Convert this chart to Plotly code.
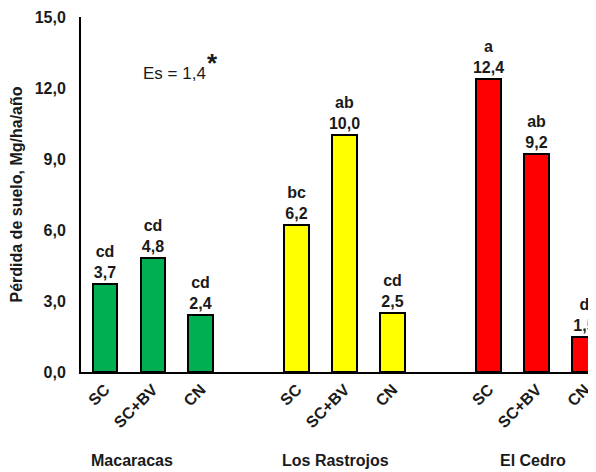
import plotly.graph_objects as go

groups = ["Macaracas", "Los Rastrojos", "El Cedro"]
treatments = ["SC", "SC+BV", "CN"]
values = [
    [3.7, 4.8, 2.4],
    [6.2, 10.0, 2.5],
    [12.4, 9.2, 1.5],
]
letters = [
    ["cd", "cd", "cd"],
    ["bc", "ab", "cd"],
    ["a", "ab", "d"],
]
colors = ["#00B050", "#FFFF00", "#FF0000"]
y_ticks = [0, 3, 6, 9, 12, 15]
es_text = "Es = 1,4"

FONT = "Liberation Sans, Arial, sans-serif"
TXT = "#1a1a1a"
slot = len(treatments) + 1

fig = go.Figure()
tickvals, ticktext = [], []
for g, (grp, vals, lets, col) in enumerate(zip(groups, values, letters, colors)):
    xs = [g * slot + i for i in range(len(treatments))]
    tickvals += xs
    ticktext += treatments
    fig.add_trace(go.Bar(
        x=xs, y=vals, width=0.52,
        marker=dict(color=col, line=dict(color="black", width=2)),
        text=[f"{l}<br>{v:.1f}".replace(".", ",") for l, v in zip(lets, vals)],
        textposition="outside", constraintext="none", cliponaxis=False,
        textfont=dict(family=FONT, size=16, color=TXT, weight="bold"),
        showlegend=False, hoverinfo="skip",
    ))

group_x = [0.56, 4.81, 8.92]
for gx, grp in zip(group_x, groups):
    fig.add_annotation(x=gx, y=-0.248, xref="x", yref="paper", text=grp,
                       showarrow=False, yanchor="middle", xanchor="center",
                       font=dict(family=FONT, size=16, color=TXT, weight="bold"))

fig.add_annotation(x=0.74, y=12.62, xref="x", yref="y", text=es_text, showarrow=False,
                   xanchor="left", yanchor="middle",
                   font=dict(family=FONT, size=17, color=TXT))
fig.add_annotation(x=2.08, y=13.05, xref="x", yref="y", text="*", showarrow=False,
                   xanchor="left", yanchor="middle",
                   font=dict(family=FONT, size=26, color=TXT, weight="bold"))

fig.update_layout(
    width=596, height=472,
    margin=dict(l=73, r=0, t=9, b=108, autoexpand=False),
    plot_bgcolor="white", paper_bgcolor="white",
    separators=",.",
    bargap=0,
    xaxis=dict(range=[-0.5, 10.4], tickvals=tickvals, ticktext=ticktext,
               tickangle=-45, showline=True, linecolor="black", linewidth=2,
               showgrid=False, zeroline=False, ticks="", automargin=False,
               tickfont=dict(family=FONT, size=16, color=TXT, weight="bold")),
    yaxis=dict(range=[0, 15], tickvals=y_ticks, tickformat=".1f",
               showline=True, linecolor="black", linewidth=2, showgrid=False, zeroline=False,
               ticks="", ticklabelstandoff=10, automargin=False,
               tickfont=dict(family=FONT, size=16, color=TXT, weight="bold"),
               title=dict(text="Pérdida de suelo, Mg/ha/año", standoff=11,
                          font=dict(family=FONT, size=16, color=TXT, weight="bold"))),
)

fig.write_html("out.html")
